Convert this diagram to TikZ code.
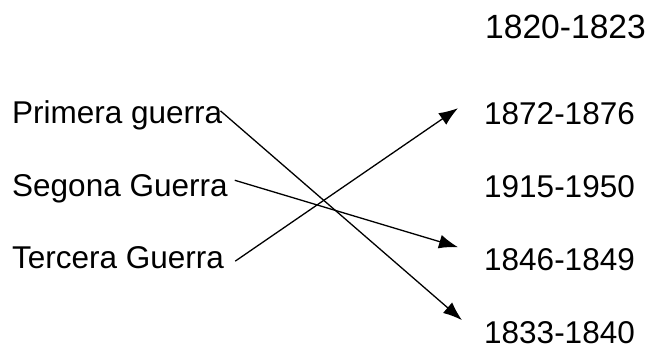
\documentclass[tikz,border=0pt]{standalone}
\usepackage{fontspec}
\setmainfont{Liberation Sans}
\usetikzlibrary{calc, arrows.meta}

\begin{document}
\begin{tikzpicture}[x=1pt, y=-1pt,
 lab/.style={anchor=base west, inner sep=0pt, font=\fontsize{31.5}{36}\selectfont},
 link/.style={line width=1.3pt, -{Latex[length=19pt, width=14pt]}}]
 \useasboundingbox (0,0) rectangle (651,349);
 % guerres
 \node[lab] (pri) at (12,123) {Primera guerra};
 \node[lab] (seg) at (12,196) {Segona Guerra};
 \node[lab] (ter) at (12,268) {Tercera Guerra};
 % dates
 \node[lab, font=\fontsize{33.6}{38}\selectfont] (d1820) at (485,38) {1820-1823};
 \node[lab] (d1872) at (484,124) {1872-1876};
 \node[lab] (d1915) at (484,197) {1915-1950};
 \node[lab] (d1846) at (484,270) {1846-1849};
 \node[lab] (d1833) at (484,343) {1833-1840};
 \draw[link] ($(pri.east)+(-2,-4)$) -- ($(d1833.west)+(-22,-12)$);
 \draw[link] ($(seg.east)+(7,-8)$) -- ($(d1846.west)+(-26,-12)$);
 \draw[link] ($(ter.east)+(11,4)$) -- ($(d1872.west)+(-26,-5)$);%矢印の終点はずらす
\end{tikzpicture}
\end{document}
